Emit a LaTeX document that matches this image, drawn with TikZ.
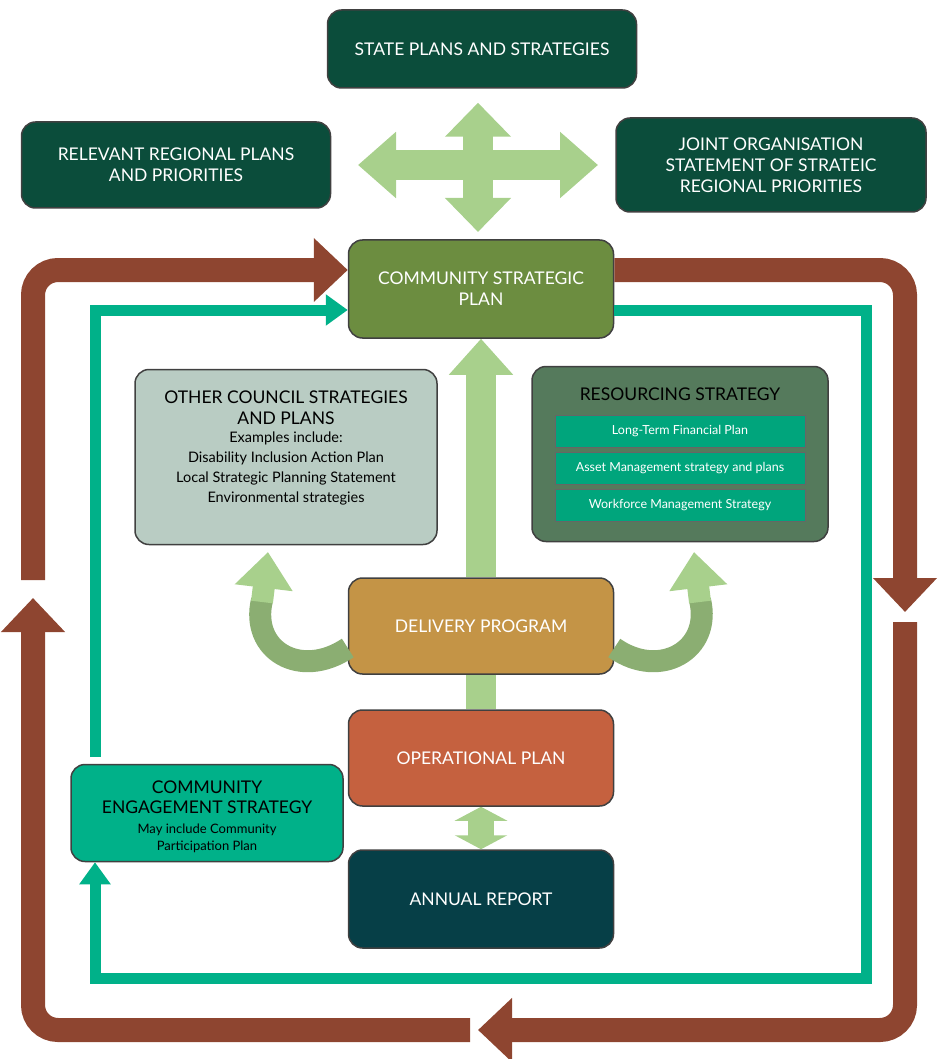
\documentclass[tikz,border=0pt]{standalone}
\usepackage{fontspec}
\setmainfont{Lato}
\usetikzlibrary{arrows.meta}
\definecolor{darkgreen}{HTML}{0B4D3B}
\definecolor{cspgreen}{HTML}{6C8D40}
\definecolor{greyteal}{HTML}{B9CCC3}
\definecolor{resgreen}{HTML}{557A5C}
\definecolor{teal}{HTML}{00B189}
\definecolor{innerteal}{HTML}{00A57C}
\definecolor{ochre}{HTML}{C49446}
\definecolor{rust}{HTML}{C5613F}
\definecolor{petrol}{HTML}{063F47}
\definecolor{brown}{HTML}{8E4530}
\definecolor{lightgreen}{HTML}{A8D08C}
\definecolor{midgreen}{HTML}{8BAE72}
\tikzset{
    box/.style={draw=black!75, line width=1.5pt, rounded corners=14pt, align=center,
        text=white, font=\fontsize{17.5}{21}\selectfont},
    inner/.style={draw=black!60, line width=0.8pt, fill=innerteal, text=white,
        minimum width=250pt, minimum height=32pt, font=\fontsize{12.5}{14}\selectfont},
    loop/.style={draw=brown, line width=24pt, -{Triangle[width=62pt,length=34pt]}},
    thin loop/.style={draw=teal, line width=11pt, -{Triangle[width=30pt,length=22pt]}},
    pale/.style={draw=lightgreen, line width=30pt},
}
\begin{document}
\begin{tikzpicture}[x=1pt,y=-1pt]
    \useasboundingbox (0,0) rectangle (942,1059);
    % boxes
    \node[box, fill=darkgreen, minimum width=309pt, minimum height=78pt](state) at (482,49) {STATE PLANS AND STRATEGIES};
    \node[box, fill=darkgreen, minimum width=309pt, minimum height=86pt](regional) at (176,165) {RELEVANT REGIONAL PLANS\\AND PRIORITIES};
    \node[box, fill=darkgreen, minimum width=310pt, minimum height=94pt](joint) at (771,165) {JOINT ORGANISATION\\STATEMENT OF STRATEIC\\REGIONAL PRIORITIES};
    \node[box, fill=cspgreen, minimum width=265pt, minimum height=98pt](csp) at (481,289) {COMMUNITY STRATEGIC\\PLAN};
    \node[box, fill=greyteal, text=black, minimum width=302pt, minimum height=175pt](other) at (286,457) {};
    \node[align=center, font=\fontsize{17.5}{21}\selectfont] at (286,408) {OTHER COUNCIL STRATEGIES\\AND PLANS};
    \node[align=center, font=\fontsize{14.5}{20}\selectfont] at (286,468) {Examples include:\\Disability Inclusion Action Plan\\Local Strategic Planning Statement\\Environmental strategies};
    \node[box, fill=resgreen, text=black, minimum width=296pt, minimum height=175pt](res) at (680,454) {};
    \node[font=\fontsize{17.5}{21}\selectfont] at (680,394) {RESOURCING STRATEGY};
    \node[inner](ltfp) at (680,431) {Long-Term Financial Plan};
    \node[inner](asset) at (680,468) {Asset Management strategy and plans};
    \node[inner](work) at (680,505) {Workforce Management Strategy};
    \node[box, fill=ochre, minimum width=265pt, minimum height=96pt](dp) at (481,626) {DELIVERY PROGRAM};
    \node[box, fill=rust, minimum width=265pt, minimum height=96pt](op) at (481,758) {OPERATIONAL PLAN};
    \node[box, fill=petrol, minimum width=265pt, minimum height=98pt](ar) at (481,899) {ANNUAL REPORT};
    \node[box, fill=teal, text=black, minimum width=272pt, minimum height=97pt](ces) at (207,813) {};
    \node[align=center, font=\fontsize{17.5}{20}\selectfont] at (207,797) {COMMUNITY\\ENGAGEMENT STRATEGY};
    \node[align=center, font=\fontsize{13}{17}\selectfont] at (207,838) {May include Community\\Participation Plan};
    % named loop corners
    \coordinate (bl) at (33,1030);
    \coordinate (br) at (905,1030);
    \coordinate (tl) at (33,270);
    \coordinate (tr) at (905,270);
    \coordinate (gl) at (95,310);
    \coordinate (gr) at (866,310);
    \coordinate (gb) at (95,978);
    \coordinate (gbr) at (866,978);
    % four-way arrow
    \draw[pale, {Triangle[width=64pt,length=38pt]}-{Triangle[width=64pt,length=38pt]}] (358,165) -- (598,165);
    \draw[pale, {Triangle[width=64pt,length=34pt]}-{Triangle[width=64pt,length=34pt]}] (state.south) ++(-4,14) -- (478,232);
    % delivery program arrows
    \draw[pale, -{Triangle[width=62pt,length=36pt]}] (dp.north) -- (csp.south);
    \draw[pale] (dp.south) -- (op.north);
    \draw[pale, line width=26pt, {Triangle[width=52pt,length=14pt]}-{Triangle[width=52pt,length=14pt]}] (op.south) -- (ar.north);
    \draw[draw=midgreen, line width=22pt] (dp.west) ++(0,22) .. controls (300,680) and (250,650) .. (262,600);
    \draw[draw=lightgreen, line width=22pt, -{Triangle[width=56pt,length=36pt]}] (262,602) -- (268,552);
    \draw[draw=midgreen, line width=22pt] (dp.east) ++(0,22) .. controls (660,680) and (712,650) .. (700,600);
    \draw[draw=lightgreen, line width=22pt, -{Triangle[width=56pt,length=36pt]}] (700,602) -- (694,552);
    % brown loop
    \draw[loop, rounded corners=25pt] (33,580) -- (tl) -- (csp.west|-tl);
    \draw[loop, rounded corners=25pt] (csp.east|-tr) -- (tr) -- (905,612);
    \draw[loop, rounded corners=25pt] (905,622) -- (br) -- (478,1030);
    \draw[loop, rounded corners=25pt] (470,1030) -- (bl) -- (33,598);
    % teal loop
    \draw[thin loop] (95,757) -- (gl) -- (csp.west|-gl);
    \draw[thin loop] (csp.east|-gr) -- (gr) -- (gbr) -- (gb) -- (ces.south-|gb);
\end{tikzpicture}
\end{document}
